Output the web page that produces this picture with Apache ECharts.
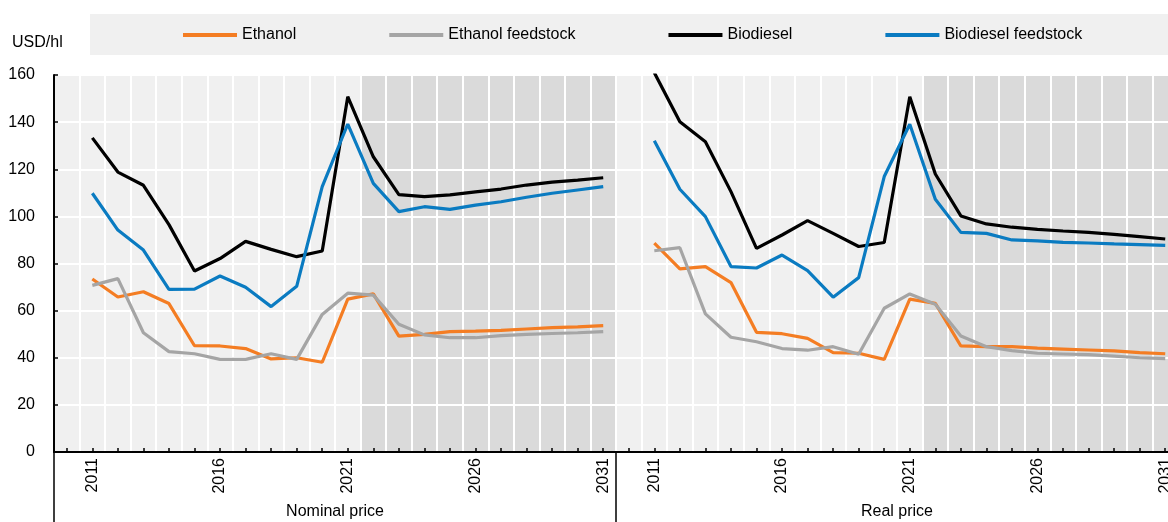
<!DOCTYPE html>
<html>
<head>
<meta charset="utf-8">
<script src="https://cdn.jsdelivr.net/npm/echarts@6/dist/echarts.min.js"></script>
<style>
  html, body { margin: 0; padding: 0; overflow: hidden; background: #fff; }
  #chart { width: 1180px; height: 522px; }
</style>
</head>
<body>
<div id="chart"></div>
<script>
const years = ['2011', '2012', '2013', '2014', '2015', '2016', '2017', '2018', '2019', '2020', '2021',
  '2022', '2023', '2024', '2025', '2026', '2027', '2028', '2029', '2030', '2031']
const projectionStart = 2022
const panels = ['Nominal price', 'Real price']
const seriesNames = ['Ethanol', 'Ethanol feedstock', 'Biodiesel', 'Biodiesel feedstock']
const yTicks = [0, 20, 40, 60, 80, 100, 120, 140, 160]

// nominal price, USD/hl
const ethanolNominal = [73.4, 65.8, 68.0, 63.0, 45.1, 45.0, 43.9, 39.5, 40.0, 38.1, 64.9, 67.1, 49.2, 49.9, 51.1, 51.3, 51.6, 52.2, 52.8, 53.1, 53.6]
const ethanolFeedNominal = [70.7, 73.6, 50.6, 42.6, 41.7, 39.3, 39.3, 41.7, 39.3, 58.4, 67.4, 66.6, 54.2, 49.7, 48.5, 48.5, 49.4, 49.9, 50.3, 50.6, 51.1]
const biodieselNominal = [133.3, 118.8, 113.2, 96.5, 76.8, 82.1, 89.4, 86.0, 82.9, 85.3, 150.8, 125.3, 109.2, 108.4, 109.1, 110.4, 111.6, 113.3, 114.5, 115.4, 116.4]
const biodieselFeedNominal = [109.8, 94.2, 85.7, 69.0, 69.1, 74.7, 69.9, 61.7, 70.3, 112.6, 139.2, 114.0, 102.0, 104.1, 103.0, 104.8, 106.2, 108.1, 109.8, 111.2, 112.6]

// real price, USD/hl
const ethanolReal = [88.6, 77.7, 78.7, 71.9, 50.8, 50.2, 48.2, 42.2, 41.9, 39.3, 64.9, 63.1, 45.0, 44.7, 44.7, 44.1, 43.7, 43.3, 42.9, 42.2, 41.7]
const ethanolFeedReal = [85.4, 86.7, 58.6, 48.7, 46.8, 43.9, 43.2, 44.7, 41.5, 61.0, 67.1, 62.7, 49.2, 44.7, 43.0, 41.9, 41.6, 41.3, 40.7, 40.0, 39.6]
const biodieselReal = [161.0, 140.2, 131.7, 110.5, 86.4, 92.1, 98.2, 92.8, 87.2, 88.9, 150.8, 118.0, 100.2, 96.8, 95.4, 94.5, 93.8, 93.2, 92.4, 91.4, 90.4]
const biodieselFeedReal = [132.1, 111.5, 99.9, 78.7, 78.1, 83.6, 77.0, 65.7, 74.0, 116.9, 139.1, 107.3, 93.2, 92.8, 90.0, 89.6, 89.0, 88.7, 88.3, 88.0, 87.7]

const colors = ['#f47d23', '#a5a5a5', '#000000', '#0a7bc1']
const panelData = [
  [ethanolNominal, ethanolFeedNominal, biodieselNominal, biodieselFeedNominal],
  [ethanolReal, ethanolFeedReal, biodieselReal, biodieselFeedReal]
]

const font = 'Liberation Sans, Arial, sans-serif'
const yMax = yTicks[yTicks.length - 1]
// one empty slot before 2011 in every panel
const categories = [''].concat(years)
const pad = arr => ['-'].concat(arr)
const shade = categories.map(c => (c !== '' && +c >= projectionStart) ? yMax : '-')

const chart = echarts.init(document.getElementById('chart'))

const grids = panels.map((p, g) => ({
  left: 54 + g * 562,
  top: 75,
  width: 562,
  height: 377,
  show: true,
  backgroundColor: '#f0f0f0',
  borderWidth: 0
}))

const xAxes = []
panels.forEach((p, g) => {
  xAxes.push({
    type: 'category',
    gridIndex: g,
    data: categories,
    boundaryGap: true,
    z: 2,
    axisLine: { lineStyle: { color: '#000', width: 2 } },
    axisTick: { show: true, inside: true, length: 4, alignWithLabel: true, interval: 0, lineStyle: { color: '#000', width: 1.5 } },
    axisLabel: {
      rotate: 90,
      margin: 6,
      interval: (i, v) => v !== '' && (+v - +years[0]) % 5 === 0,
      color: '#000',
      fontSize: 16,
      fontFamily: font
    },
    splitLine: { show: true, interval: 0, showMinLine: false, lineStyle: { color: '#fff', width: 2 } }
  })
})
// panel names under the years, with the long separator ticks
panels.forEach((p, g) => {
  xAxes.push({
    type: 'category',
    gridIndex: g,
    position: 'bottom',
    data: [p],
    boundaryGap: true,
    axisLine: { show: false },
    axisTick: { show: true, length: 70, lineStyle: { color: '#000', width: 1.5 } },
    axisLabel: { margin: 52, color: '#000', fontSize: 16, fontFamily: font },
    splitLine: { show: false }
  })
})

const yAxes = panels.map((p, g) => ({
  type: 'value',
  gridIndex: g,
  min: yTicks[0],
  max: yMax,
  interval: yTicks[1] - yTicks[0],
  z: 2,
  axisLine: { show: g === 0, lineStyle: { color: '#000', width: 2 } },
  axisTick: { show: g === 0, inside: true, length: 4, lineStyle: { color: '#000', width: 1.5 } },
  axisLabel: { show: g === 0, margin: 19, color: '#000', fontSize: 16, fontFamily: font },
  splitLine: { show: true, showMinLine: false, lineStyle: { color: '#fff', width: 2 } }
}))

const series = []
panels.forEach((p, g) => {
  series.push({
    type: 'bar',
    name: 'Projection',
    xAxisIndex: g,
    yAxisIndex: g,
    data: shade,
    barWidth: '100%',
    itemStyle: { color: '#dadada' },
    silent: true,
    z: 1
  })
  seriesNames.forEach((name, k) => {
    series.push({
      type: 'line',
      name: name,
      xAxisIndex: g,
      yAxisIndex: g,
      data: pad(panelData[g][k]),
      symbol: 'none',
      lineStyle: { width: 3.2, color: colors[k] },
      itemStyle: { color: colors[k] },
      z: 3
    })
  })
})

chart.setOption({
  animation: false,
  textStyle: { fontFamily: font },
  graphic: [
    {
      type: 'rect',
      left: 90,
      top: 14,
      z: -1,
      shape: { width: 1090, height: 41 },
      style: { fill: '#f0f0f0' },
      silent: true
    },
    {
      type: 'text',
      left: 12,
      top: 35,
      style: { text: 'USD/hl', fontSize: 16, fontFamily: font, fill: '#000' }
    }
  ],
  legend: {
    data: seriesNames,
    left: 183,
    top: 27,
    padding: 0,
    width: 1000,
    icon: 'rect',
    itemGap: 93,
    itemWidth: 54,
    itemHeight: 4,
    textStyle: { fontSize: 16, color: '#000', fontFamily: font }
  },
  grid: grids,
  xAxis: xAxes,
  yAxis: yAxes,
  series: series
})
</script>
</body>
</html>
